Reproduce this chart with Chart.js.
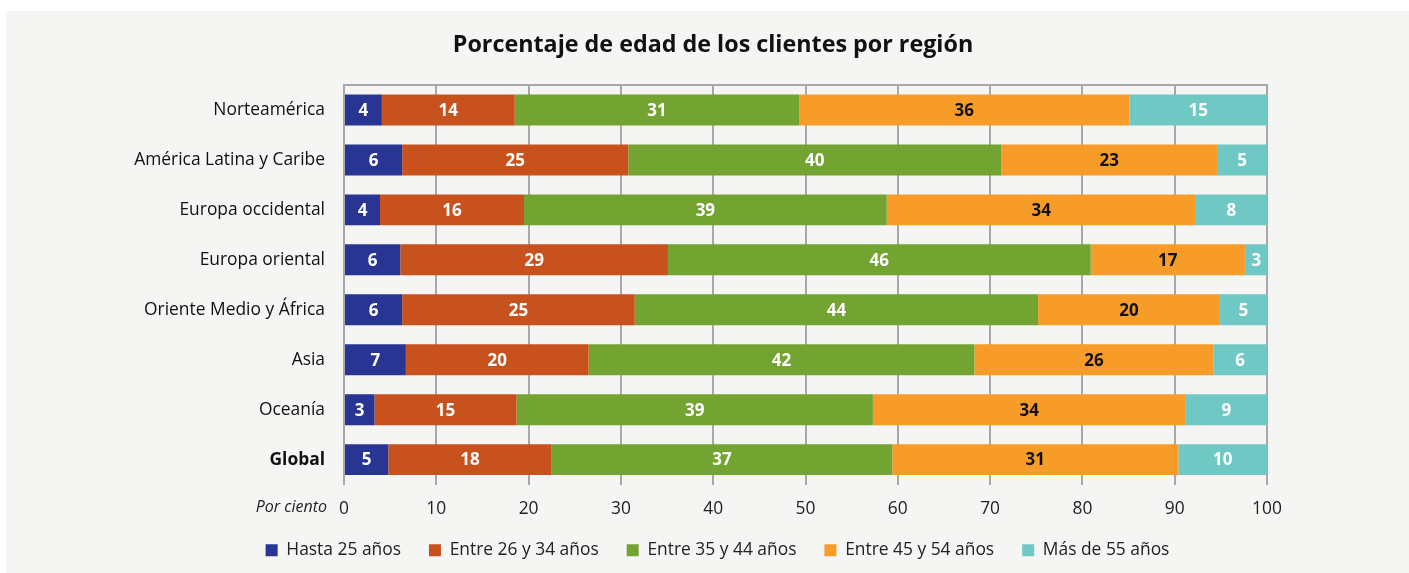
<!DOCTYPE html>
<html>
<head>
<meta charset="utf-8">
<script src="https://cdn.jsdelivr.net/npm/chart.js@4.4.1/dist/chart.umd.min.js"></script>
<style>
  html, body { margin: 0; padding: 0; background: #ffffff; }
  #wrap { position: relative; width: 1409px; height: 573px; }
  #panel { position: absolute; left: 6px; top: 11px; right: 0; bottom: 0; background: #f5f5f3; }
  #chart { position: absolute; left: 0; top: 0; }
</style>
</head>
<body>
<div id="wrap">
  <div id="panel"></div>
  <canvas id="chart" width="1409" height="573"></canvas>
</div>
<script>
// Data
var title = 'Porcentaje de edad de los clientes por región';
var regions = ['Norteamérica', 'América Latina y Caribe', 'Europa occidental', 'Europa oriental',
  'Oriente Medio y África', 'Asia', 'Oceanía', 'Global'];
var hasta25 = [4.1, 6.3, 3.9, 6.1, 6.3, 6.7, 3.3, 4.8];
var entre26_34 = [14.4, 24.5, 15.6, 29.0, 25.2, 19.8, 15.4, 17.7];
var entre35_44 = [30.8, 40.4, 39.3, 45.8, 43.7, 41.8, 38.6, 36.9];
var entre45_54 = [35.8, 23.4, 33.5, 16.7, 19.7, 25.9, 33.9, 31.0];
var mas55 = [14.9, 5.4, 7.7, 2.5, 5.1, 5.8, 8.8, 9.6];
var xTicks = [0, 10, 20, 30, 40, 50, 60, 70, 80, 90, 100];

var FONT = "'Open Sans', 'Noto Sans', sans-serif";
var GRID = '#a8a8a8';
var FS = 17.4;

// labels on the bars
var barLabels = {
  id: 'barLabels',
  afterDatasetsDraw: function (chart) {
    var ctx = chart.ctx;
    ctx.save();
    ctx.font = 'bold 17px ' + FONT;
    ctx.textAlign = 'center';
    ctx.textBaseline = 'middle';
    chart.data.datasets.forEach(function (ds, i) {
      var meta = chart.getDatasetMeta(i);
      ctx.fillStyle = ds.labelColor;
      meta.data.forEach(function (bar, j) {
        var x = (bar.x + bar.base) / 2;
        ctx.fillText(Math.round(ds.data[j]), x, bar.y + 1);
      });
    });
    ctx.restore();
  }
};

// title, top border, "Por ciento", legend offset
var extras = {
  id: 'extras',
  afterLayout: function (chart) {
    var lg = chart.legend;
    lg.left += 84; lg.right += 84;
    lg.top -= 3; lg.bottom -= 3;
  },
  beforeDatasetsDraw: function (chart) {
    var a = chart.chartArea, ctx = chart.ctx;
    ctx.save();
    ctx.strokeStyle = GRID;
    ctx.lineWidth = 2;
    ctx.beginPath();
    ctx.moveTo(a.left - 1, a.top);
    ctx.lineTo(a.right + 1, a.top);
    ctx.stroke();
    ctx.restore();
  },
  afterDraw: function (chart) {
    var a = chart.chartArea, ctx = chart.ctx;
    ctx.save();
    ctx.fillStyle = '#111';
    ctx.textAlign = 'center';
    ctx.textBaseline = 'middle';
    ctx.font = 'bold 23.3px ' + FONT;
    ctx.fillText(title, 713, 45);
    ctx.font = 'italic 16px ' + FONT;
    ctx.fillStyle = '#222';
    ctx.textAlign = 'right';
    ctx.fillText('Por ciento', a.left - 17, 507);
    ctx.restore();
  }
};

new Chart(document.getElementById('chart'), {
  type: 'bar',
  data: {
    labels: regions,
    datasets: [
      { label: 'Hasta 25 años', data: hasta25, backgroundColor: '#283593', labelColor: '#fff' },
      { label: 'Entre 26 y 34 años', data: entre26_34, backgroundColor: '#c8521e', labelColor: '#fff' },
      { label: 'Entre 35 y 44 años', data: entre35_44, backgroundColor: '#73a431', labelColor: '#fff' },
      { label: 'Entre 45 y 54 años', data: entre45_54, backgroundColor: '#f79c28', labelColor: '#111' },
      { label: 'Más de 55 años', data: mas55, backgroundColor: '#6fc8c3', labelColor: '#fff' }
    ]
  },
  options: {
    indexAxis: 'y',
    responsive: false,
    animation: false,
    barPercentage: 0.62,
    categoryPercentage: 1,
    layout: { padding: { left: 0, right: 142, top: 85, bottom: 1 } },
    scales: {
      x: {
        stacked: true,
        min: 0,
        max: 100,
        afterBuildTicks: function (scale) {
          scale.ticks = xTicks.map(function (v) { return { value: v }; });
        },
        afterFit: function (scale) { scale.height = 32; },
        grid: { color: GRID, lineWidth: 2, drawTicks: false },
        border: { display: false },
        ticks: { padding: 14, color: '#222', font: { family: FONT, size: FS } }
      },
      y: {
        stacked: true,
        afterFit: function (scale) { scale.width = 344; },
        grid: { display: false, drawTicks: false },
        border: { display: false },
        ticks: {
          padding: 19,
          color: '#111',
          font: function (c) {
            return { family: FONT, size: FS, weight: c.index === 7 ? 'bold' : 'normal' };
          }
        }
      }
    },
    plugins: {
      title: { display: false },
      legend: {
        position: 'bottom',
        labels: {
          boxWidth: 12,
          boxHeight: 12,
          padding: 28,
          color: '#222',
          font: { family: FONT, size: FS }
        }
      },
      tooltip: { enabled: false }
    }
  },
  plugins: [barLabels, extras]
});
</script>
</body>
</html>
